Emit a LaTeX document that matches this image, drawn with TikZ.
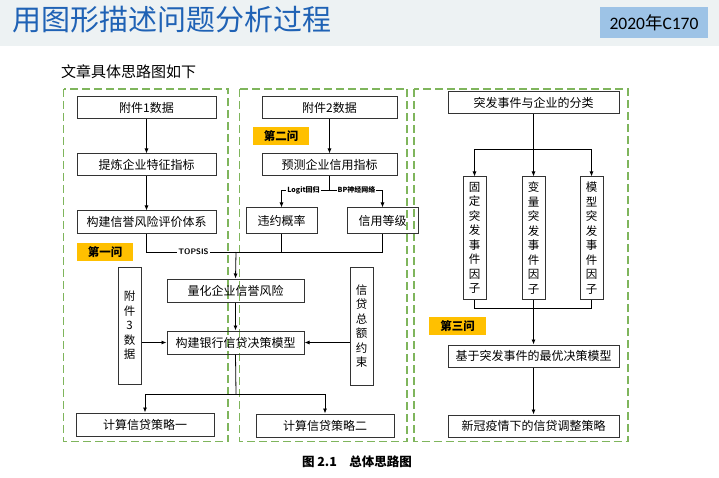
\documentclass[tikz,border=0pt]{standalone}
\usepackage{fontspec}
\setmainfont{Noto Sans CJK SC}
\newfontfamily\calib{Carlito}
\usepackage{xcolor}
\usetikzlibrary{arrows.meta,positioning}
\definecolor{zonegreen}{HTML}{7FB55C}
\definecolor{tagorange}{HTML}{FFC000}
\definecolor{hdrgray}{HTML}{EDF2F3}
\definecolor{titleblue}{HTML}{1F62B5}
\definecolor{badgeblue}{HTML}{9DC3E6}

\begin{document}
\begin{tikzpicture}[
    x=1pt, y=-1pt,
    node distance=34pt and 30pt,
    box/.style={
        rectangle, draw=black!80, line width=1pt,
        minimum width=#1, minimum height=22pt, inner sep=0pt,
        font=\fontsize{12}{14}\selectfont
    },
    box/.default=139pt,
    vbox/.style={
        rectangle, draw=black!80, line width=1pt,
        minimum width=23pt, minimum height=#1, inner sep=0pt,
        align=center, font=\fontsize{11.5}{14.5}\selectfont
    },
    tag/.style={
        fill=tagorange, minimum width=56pt, minimum height=18pt,
        inner sep=0pt, font=\bfseries\fontsize{11.5}{12}\selectfont
    },
    zone/.style={draw=zonegreen, line width=1.5pt, dash pattern=on 8pt off 4pt},
    flow/.style={-{Latex[length=5pt,width=4pt]}, line width=0.8pt},
    link/.style={line width=0.8pt},
    lbl/.style={fill=white, inner sep=1pt, font=\bfseries\fontsize{7}{8}\selectfont},
]
\useasboundingbox (0,0) rectangle (719,478);

% Header
\fill[hdrgray] (0,0) rectangle (719,46);
\node[anchor=west, inner sep=0pt, text=titleblue, font=\fontsize{29}{32}\selectfont] (title) at (12,20) {用图形描述问题分析过程};
\node[fill=badgeblue, minimum width=108pt, minimum height=31pt, font=\fontsize{17.5}{18}\selectfont] (badge) at (654,23) {{\calib 2020}年{\calib C170}};
\node[anchor=west, inner sep=0pt, font=\fontsize{15}{17}\selectfont] (sub) at (61,72) {文章具体思路图如下};

% Dashed zones
\draw[zone] (63.5,89) rectangle (228,441.5);
\draw[zone] (239.5,89) rectangle (407,441.5);
\draw[zone] (414,89) rectangle (628,441.5);

% Question 1
\node[box] (fj1) at (146.5,108) {附件1数据};
\node[box, below=of fj1] (tltz) {提炼企业特征指标};
\node[box, below=of tltz] (pjtx) {构建信誉风险评价体系};
\node[tag] (q1) at (105,252) {第一问};

% Question 2
\node[box=135pt] (fj2) at (329.5,108) {附件2数据};
\node[box=135pt, below=of fj2] (ycxy) {预测企业信用指标};
\node[tag] (q2) at (281,136.5) {第二问};
\node[box=71pt, minimum height=25pt] (wygl) at (281.5,220.5) {违约概率};
\node[box=71pt, minimum height=25pt] (xydj) at (382.5,220.5) {信用等级};

% Decision model
\node[box=137pt, minimum height=23pt] (lhfx) at (235.5,290.5) {量化企业信誉风险};
\node[box=137pt, minimum height=23pt, below=28pt of lhfx] (jcmx) {构建银行信贷决策模型};
\node[vbox=117pt] (fj3) at (129.5,325.5) {附\\件\\3\\数\\据};
\node[vbox=118pt] (zeys) at (361.5,326) {信\\贷\\总\\额\\约\\束};
\node[box=138pt, minimum height=23pt] (cl1) at (145,424.5) {计算信贷策略一};
\node[box=138pt, minimum height=23pt] (cl2) at (325,425.5) {计算信贷策略二};

% Question 3
\node[box=171pt] (fenlei) at (533.5,103) {突发事件与企业的分类};
\node[vbox=122pt] (gdyz) at (474.5,238) {固\\定\\突\\发\\事\\件\\因\\子};
\node[vbox=122pt] (blyz) at (533.5,238) {变\\量\\突\\发\\事\\件\\因\\子};
\node[vbox=122pt] (mxyz) at (591.5,238) {模\\型\\突\\发\\事\\件\\因\\子};
\node[tag, minimum width=57pt] (q3) at (457.5,326) {第三问};
\node[box=171pt] (zyjc) at (533.5,356) {基于突发事件的最优决策模型};
\node[box=171pt, below=47pt of zyjc] (tzcl) {新冠疫情下的信贷调整策略};

% Junctions
\coordinate (tp) at (236,252);
\coordinate (lg) at (329.5,190);
\coordinate (jd) at (236,394);
\coordinate (fd) at (533.5,149);
\coordinate (hb) at (533.5,308);

% Arrows
\draw[flow] (fj1) -- (tltz);
\draw[flow] (tltz) -- (pjtx);
\draw[link] (pjtx.south) |- (xydj.south |- tp) -- (xydj.south);
\draw[link] (wygl.south) -- (wygl.south |- tp);
\draw[flow] (tp) -- (lhfx.north);
\node[lbl, font=\bfseries\sffamily\fontsize{8}{9}\selectfont] (topsis) at (193.5,252) {TOPSIS};

\draw[flow] (fj2) -- (ycxy);
\draw[link] (ycxy.south) -- (lg);
\draw[flow] (lg) -| (wygl.north);
\draw[flow] (lg) -| (xydj.north);
\node[lbl] (logit) at (303.5,190) {Logit回归};
\node[lbl] (bpnn) at (356.5,190) {BP神经网络};

\draw[flow] (lhfx) -- (jcmx);
\draw[flow] (fj3.east |- jcmx) -- (jcmx.west);
\draw[flow] (zeys.west |- jcmx) -- (jcmx.east);
\draw[link] (jcmx.south) -- (jd);
\draw[flow] (jd) -| (cl1.north);
\draw[flow] (jd) -| (cl2.north);

\draw[link] (fenlei.south) -- (fd);
\draw[flow] (fd) -| (gdyz.north);
\draw[flow] (fd) -| (mxyz.north);
\draw[flow] (fd) -- (blyz.north);
\draw[link] (gdyz.south) |- (hb);
\draw[link] (mxyz.south) |- (hb);
\draw[flow] (blyz.south) -- (zyjc.north);
\draw[flow] (zyjc) -- (tzcl);

% Caption
\node[font=\bfseries\fontsize{12.5}{14}\selectfont] (cap) at (357,462) {图 2.1\quad 总体思路图};
\end{tikzpicture}
\end{document}
